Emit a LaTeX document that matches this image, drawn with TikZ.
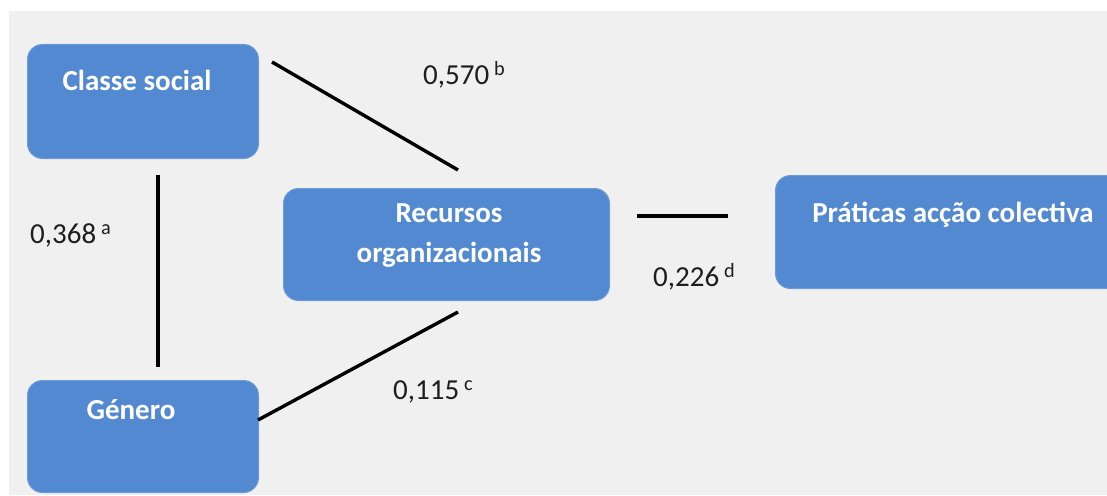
\documentclass[tikz,border=0pt]{standalone}
\usepackage{fontspec}
\setmainfont{Carlito}
\definecolor{boxblue}{RGB}{83,137,208}
\definecolor{boxedge}{RGB}{110,155,215}
\definecolor{bggray}{RGB}{240,240,240}
\definecolor{coeftext}{RGB}{30,30,30}
\begin{document}
\begin{tikzpicture}[x=1pt,y=-1pt,
  box/.style={draw=boxedge, line width=1pt, fill=boxblue, rounded corners=15pt, inner sep=0pt},
  boxtext/.style={text=white, font=\fontsize{29}{40}\selectfont\bfseries, align=center, inner sep=0pt},
  link/.style={line width=3.4pt, black},
  coef/.style={font=\fontsize{29}{35}\selectfont, text=coeftext, inner sep=0pt}]
\useasboundingbox (0,0) rectangle (1107,495);
\fill[white] (0,0) rectangle (1107,495);
\fill[bggray] (9,11) rectangle (1107,495);

% boxes
\node[box, minimum width=231pt, minimum height=114pt, anchor=north west] (classe) at (27,44) {};
\node[box, minimum width=231pt, minimum height=112pt, anchor=north west] (genero) at (27,380) {};
\node[box, minimum width=326pt, minimum height=112pt, anchor=north west] (recursos) at (283,188) {};
\node[box, minimum width=345pt, minimum height=113pt, anchor=north west] (praticas) at (775,175) {};

% box captions
\node[boxtext] (tclasse) at (137,80) {Classe social};
\node[boxtext] (tgenero) at (131,410) {Género};
\node[boxtext] (trecursos) at (449,236) {Recursos\\organizacionais};
\node[boxtext] (tpraticas) at (953,215) {Práticas acção colectiva};

% connector end points
\coordinate (a1) at (158,175);
\coordinate (a2) at (158,367);
\coordinate (b1) at (272,62);
\coordinate (b2) at (458,170);
\coordinate (c1) at (258,420);
\coordinate (c2) at (458,312);
\coordinate (d1) at (637,216);
\coordinate (d2) at (728,216);

\draw[link] (a1) -- (a2);
\draw[link] (b1) -- (b2);
\draw[link] (c1) -- (c2);
\draw[link] (d1) -- (d2);

% coefficients
\node[coef, anchor=west] (la) at (30,235) {0,368\,\textsuperscript{a}};
\node[coef, anchor=west] (lb) at (423,75) {0,570\,\textsuperscript{b}};
\node[coef, anchor=west] (lc) at (393,392) {0,115\,\textsuperscript{c}};
\node[coef, anchor=west] (ld) at (653,277) {0,226\,\textsuperscript{d}};
\end{tikzpicture}
\end{document}
